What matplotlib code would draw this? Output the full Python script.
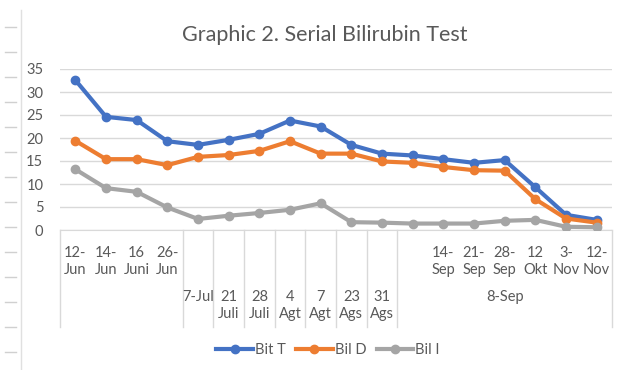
import numpy as np
import matplotlib.pyplot as plt
from matplotlib.lines import Line2D
import matplotlib.transforms as mtransforms

plt.rcParams['font.family'] = ['Lato', 'DejaVu Sans']

# ---------------- data ----------------
inner_labels = ["12-\nJun", "14-\nJun", "16\nJuni", "26-\nJun",
                "", "", "", "", "", "", "",
                "", "14-\nSep", "21-\nSep", "28-\nSep", "12\nOkt", "3-\nNov", "12-\nNov"]
# outer level: (label, first index, last index)
outer_groups = [("", 0, 3), ("7-Jul", 4, 4), ("21\nJuli", 5, 5), ("28\nJuli", 6, 6),
                ("4\nAgt", 7, 7), ("7\nAgt", 8, 8), ("23\nAgs", 9, 9), ("31\nAgs", 10, 10),
                ("8-Sep", 11, 17)]

bit_t = [32.6, 24.6, 23.9, 19.3, 18.5, 19.6, 20.9, 23.8, 22.5,
         18.5, 16.6, 16.2, 15.4, 14.6, 15.2, 9.3, 3.3, 2.2]
bil_d = [19.4, 15.4, 15.4, 14.1, 15.9, 16.3, 17.2, 19.3, 16.6,
         16.6, 14.9, 14.6, 13.7, 13.0, 12.9, 6.7, 2.5, 1.6]
bil_i = [13.2, 9.1, 8.3, 4.9, 2.4, 3.1, 3.7, 4.4, 5.8,
         1.7, 1.6, 1.4, 1.4, 1.4, 2.0, 2.2, 0.7, 0.6]

series = [("Bit T", bit_t, "#4472C4"),
          ("Bil D", bil_d, "#ED7D31"),
          ("Bil I", bil_i, "#A5A5A5")]

text_col = "#595959"
grid_col = "#D9D9D9"

# ---------------- figure ----------------
fig = plt.figure(figsize=(6.3, 3.7), dpi=100)
ax = fig.add_axes([60/630, 1-230/370, 552/630, 161/370])

x = np.arange(len(bit_t))
for name, vals, col in series:
    ax.plot(x, vals, color=col, lw=3, marker="o", ms=6, label=name,
            solid_capstyle="round", zorder=3)

ax.set_xlim(-0.5, len(x) - 0.5)
ax.set_ylim(0, 35)
ax.set_yticks(range(0, 36, 5))
ax.set_xticks([])
ax.grid(axis="y", color=grid_col, lw=1)
ax.set_axisbelow(True)
for s in ["top", "right", "left"]:
    ax.spines[s].set_visible(False)
ax.spines["bottom"].set_color(grid_col)
ax.tick_params(axis="y", length=0, labelsize=10.5, labelcolor=text_col, pad=12)

fig.text(325/630, 1 - 35/370, "Graphic 2. Serial Bilirubin Test", fontsize=15.5,
         color=text_col, ha="center", va="center")

# multi-level category axis below the plot
trans = mtransforms.blended_transform_factory(ax.transData, fig.transFigure)
y_top = 1 - 230/370
y_bot = 1 - 327/370
bounds = [-0.5] + [g[2] + 0.5 for g in outer_groups]
for b in bounds:
    ax.plot([b, b], [y_top, y_bot], transform=trans, color=grid_col, lw=1,
            clip_on=False)

for i, lab in enumerate(inner_labels):
    if lab:
        ax.text(i, 1 - 246/370, lab, transform=trans, ha="center", va="top",
                fontsize=10.5, color=text_col, linespacing=1.25)
for lab, a, b in outer_groups:
    if lab:
        ax.text((a + b) / 2, 1 - 290/370, lab, transform=trans, ha="center",
                va="top", fontsize=10.5, color=text_col, linespacing=1.25)

# legend
handles = [Line2D([], [], color=c, lw=3, marker="o", ms=6) for _, _, c in series]
fig.legend(handles, [n for n, _, _ in series], loc="center",
           bbox_to_anchor=(328/630, 1 - 350/370), ncol=3, frameon=False,
           fontsize=10.5, labelcolor=text_col, handlelength=2.5,
           handletextpad=0.15, columnspacing=0.7)

# ruler strip at the left edge
fig.add_artist(Line2D([21/630, 21/630], [0, 1 - 10/370], color="#E0E0E0", lw=1))
for yy in range(27, 370, 25):
    fig.add_artist(Line2D([5/630, 16/630], [1 - yy/370] * 2, color="#D0D0D0", lw=1))

fig.savefig("out.png", dpi=100)
